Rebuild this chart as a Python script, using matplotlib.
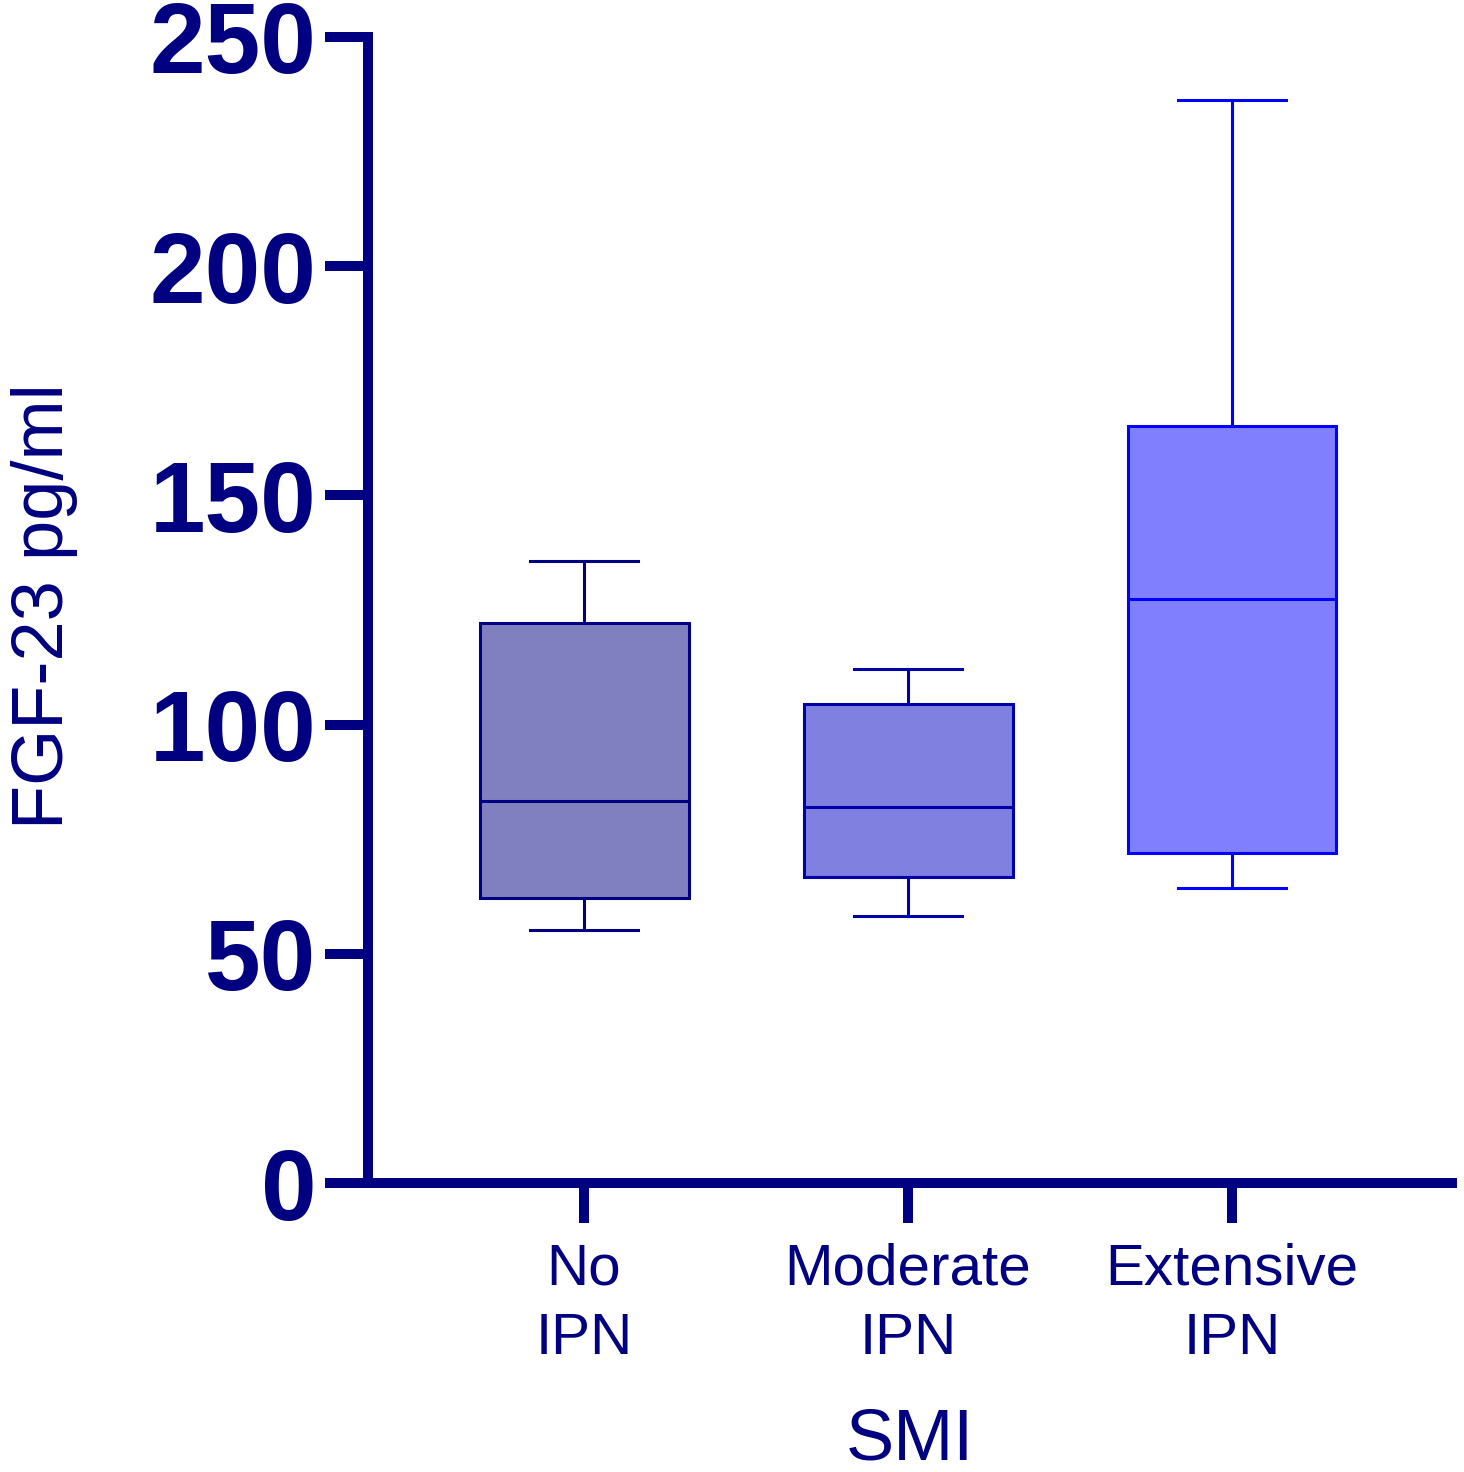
import matplotlib
matplotlib.use("Agg")
import matplotlib.pyplot as plt

plt.rcParams['font.family'] = ['Liberation Sans', 'DejaVu Sans']

# box statistics (pg/ml)
groups = ['No\nIPN', 'Moderate\nIPN', 'Extensive\nIPN']
whis_lo = [55.1, 58.2, 64.3]
q1 = [62.1, 66.7, 71.9]
med = [83.3, 82.0, 127.5]
q3 = [122.1, 104.6, 165.2]
whis_hi = [135.6, 112.2, 236.3]

fills = ['#8080C0', '#8080E0', '#8080FF']
edges = ['#000080', '#0000A8', '#0000FF']
navy = '#000080'

stats = []
for i in range(len(groups)):
    stats.append(dict(med=med[i], q1=q1[i], q3=q3[i],
                      whislo=whis_lo[i], whishi=whis_hi[i], fliers=[]))

fig = plt.figure(figsize=(14.64, 14.72), dpi=100)
ax = fig.add_axes([0.2514, 0.1963, 0.9918 - 0.2514, 0.9749 - 0.1963])

pos = list(range(len(groups)))
bp = ax.bxp(stats, positions=pos, widths=0.645, patch_artist=True,
            showfliers=False, capwidths=0.333)
for i, box in enumerate(bp['boxes']):
    box.set_facecolor(fills[i])
    box.set_edgecolor(edges[i])
    box.set_linewidth(2.2)
for i in range(len(groups)):
    bp['medians'][i].set_color(edges[i])
    bp['medians'][i].set_linewidth(2.2)
    for k in (2 * i, 2 * i + 1):
        bp['whiskers'][k].set_color(edges[i])
        bp['whiskers'][k].set_linewidth(2.2)
        bp['caps'][k].set_color(edges[i])
        bp['caps'][k].set_linewidth(2.2)

ax.set_xlim(-0.6667, 2.679)
ax.set_ylim(0, 250)
ax.set_yticks([0, 50, 100, 150, 200, 250])
ax.set_xticks(pos)
ax.set_xticklabels(groups, fontsize=42, color=navy, linespacing=1.36)
for lab in ax.get_yticklabels():
    lab.set_fontsize(72)
    lab.set_fontweight('bold')
    lab.set_color(navy)

for side in ('top', 'right'):
    ax.spines[side].set_visible(False)
for side in ('left', 'bottom'):
    ax.spines[side].set_color(navy)
    ax.spines[side].set_linewidth(7.2)
    ax.spines[side].set_capstyle('projecting')

ax.tick_params(axis='y', length=31, width=7.2, color=navy, pad=6)
ax.tick_params(axis='x', length=29, width=7.2, color=navy, pad=14)

ax.set_ylabel('FGF-23 pg/ml', fontsize=52, color=navy)
ax.yaxis.set_label_coords(-0.268, 0.503)
ax.set_xlabel('SMI', fontsize=52, color=navy, labelpad=30)

fig.savefig('out.png', dpi=100)
